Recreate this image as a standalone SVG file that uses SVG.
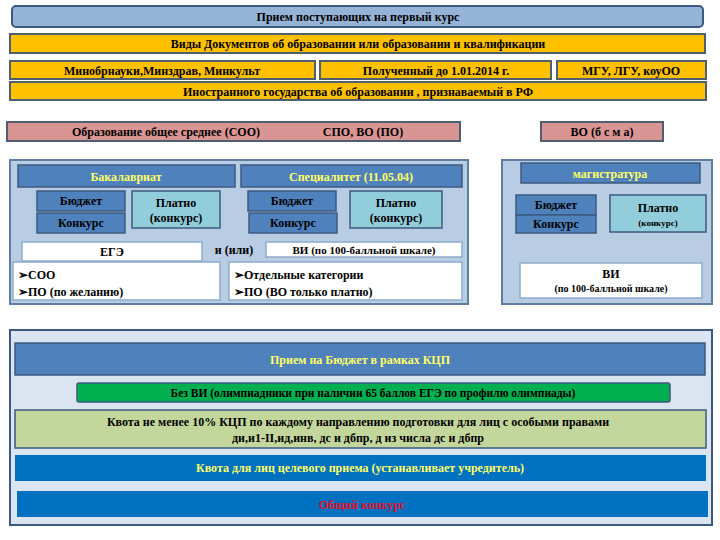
<svg xmlns="http://www.w3.org/2000/svg" width="720" height="540" viewBox="0 0 720 540">
<style>
text{font-family:"Liberation Serif","DejaVu Serif",serif;font-size:12px;font-weight:bold;text-anchor:middle;fill:#000}
.y{fill:#ffc000;stroke:#4f5f6f;stroke-width:2}
.p{fill:#d99594;stroke:#4f5f6f;stroke-width:2}
.pan{fill:#b8cce4;stroke:#5f7fa0;stroke-width:2}
.h{fill:#4f81bd;stroke:#3c5a80;stroke-width:1.5}
.lb{fill:#92cddc;stroke:#3c5a80;stroke-width:1.5}
.w{fill:#fff;stroke:#8eaacc;stroke-width:1.5}
.yt{fill:#ffff66}
.l{text-anchor:start}
</style>
<rect width="720" height="540" fill="#fff"/>
<g id="title"><rect x="12" y="6" width="691" height="21" rx="4" fill="#95b3d7" stroke="#3c5a80" stroke-width="2"/><text x="358" y="21">Прием  поступающих  на первый курс</text></g>
<g id="docs"><rect class="y" x="10" y="34" width="695" height="19"/><text x="358" y="48">Виды Документов об образовании        или     образовании и квалификации</text></g>
<g id="min"><rect class="y" x="10" y="61" width="305" height="18"/><text x="162" y="75">Минобрнауки,Минздрав, Минкульт</text></g>
<g id="before"><rect class="y" x="320" y="61" width="231" height="18"/><text x="436" y="75">Полученный до 1.01.2014 г.</text></g>
<g id="mgu"><rect class="y" x="557" y="61" width="149" height="18"/><text x="631" y="75">МГУ, ЛГУ, коуОО</text></g>
<g id="foreign"><rect class="y" x="10" y="82" width="696" height="18"/><text x="358" y="96">Иностранного государства об образовании , признаваемый в РФ</text></g>
<g id="soo"><rect class="p" x="7" y="122" width="453" height="19"/><text x="166" y="136">Образование общее среднее (СОО)</text><text x="363" y="136">СПО, ВО (ПО)</text></g>
<g id="vo"><rect class="p" x="541" y="122" width="122" height="19"/><text x="602" y="136">ВО (б с м а)</text></g>
<g id="leftpanel"><rect class="pan" x="10" y="160" width="458" height="144"/></g>
<g id="rightpanel"><rect class="pan" x="502" y="160" width="210" height="144"/></g>
<g id="bak"><rect class="h" x="18" y="165" width="217" height="22"/><text class="yt" x="126" y="181">Бакалавриат</text></g>
<g id="spec"><rect class="h" x="241" y="165" width="221" height="22"/><text class="yt" x="351" y="181">Специалитет (11.05.04)</text></g>
<g id="b1"><rect class="h" x="37" y="191" width="88" height="20"/><text x="81" y="205">Бюджет</text><rect class="h" x="37" y="213" width="88" height="20"/><text x="81" y="227">Конкурс</text></g>
<g id="p1"><rect class="lb" x="132" y="191" width="88" height="37"/><text x="176" y="207">Платно</text><text x="176" y="222">(конкурс)</text></g>
<g id="b2"><rect class="h" x="248" y="191" width="88" height="20"/><text x="292" y="205">Бюджет</text><rect class="h" x="249" y="213" width="88" height="20"/><text x="293" y="227">Конкурс</text></g>
<g id="p2"><rect class="lb" x="350" y="191" width="92" height="37"/><text x="396" y="207">Платно</text><text x="396" y="222">(конкурс)</text></g>
<g id="ege"><rect class="w" x="22" y="242" width="180" height="19"/><text x="112" y="256">ЕГЭ</text><text x="234" y="254">и  (или)</text></g>
<g id="vi1"><rect class="w" x="266" y="242" width="196" height="15"/><text x="364" y="254" style="font-size:11px">ВИ  (по 100-балльной шкале)</text></g>
<g id="list1"><rect class="w" x="13" y="262" width="207" height="38"/><text class="l" x="18" y="279">➢СОО</text><text class="l" x="18" y="296">➢ПО (по желанию)</text></g>
<g id="list2"><rect class="w" x="229" y="262" width="233" height="38"/><text class="l" x="234" y="279">➢Отдельные категории</text><text class="l" x="234" y="296">➢ПО (ВО только платно)</text></g>
<g id="mag"><rect class="h" x="521" y="163" width="179" height="20"/><text class="yt" x="610" y="178">магистратура</text></g>
<g id="b3"><rect class="h" x="516" y="195" width="80" height="20"/><text x="556" y="209">Бюджет</text><rect class="h" x="516" y="215" width="80" height="18"/><text x="556" y="228">Конкурс</text></g>
<g id="p3"><rect class="lb" x="610" y="195" width="96" height="37"/><text x="658" y="212">Платно</text><text x="658" y="226" style="font-size:9px">(конкурс)</text></g>
<g id="vi2"><rect class="w" x="520" y="263" width="182" height="35"/><text x="611" y="278">ВИ</text><text x="611" y="292" style="font-size:10px">(по 100-балльной шкале)</text></g>
<g id="bottom"><rect x="10" y="330" width="702" height="195" fill="#dbe5f1" stroke="#3c5a80" stroke-width="2"/></g>
<g id="kcp"><rect x="15" y="343" width="690" height="32" fill="#4f81bd" stroke="#3c5a80" stroke-width="1.5"/><text class="yt" x="360" y="364">Прием на Бюджет в рамках  КЦП</text></g>
<g id="olymp"><rect x="77" y="383" width="593" height="19" rx="2" fill="#00b050" stroke="#3c5a80" stroke-width="1.5"/><text x="373" y="397" style="font-size:11.5px">Без  ВИ (олимпиадники при наличии  65 баллов ЕГЭ по профилю олимпиады)</text></g>
<g id="quota"><rect x="15" y="410" width="691" height="38" fill="#c3d69b" stroke="#3c5a80" stroke-width="1.5"/><text x="358" y="426">Квота не менее 10% КЦП  по каждому направлению подготовки  для лиц с особыми правами</text><text x="358" y="442">ди,и1-II,ид,инв, дс и дбпр, д из числа дс и дбпр</text></g>
<g id="target"><rect x="15" y="455" width="691" height="26" fill="#0070c0"/><text class="yt" x="360" y="472">Квота для лиц целевого приема (устанавливает учредитель)</text></g>
<g id="general"><rect x="17" y="491" width="691" height="26" fill="#0070c0"/><text x="362" y="509" style="fill:#e0102a">Общий конкурс</text></g>
<g id="connectors"></g>
</svg>
